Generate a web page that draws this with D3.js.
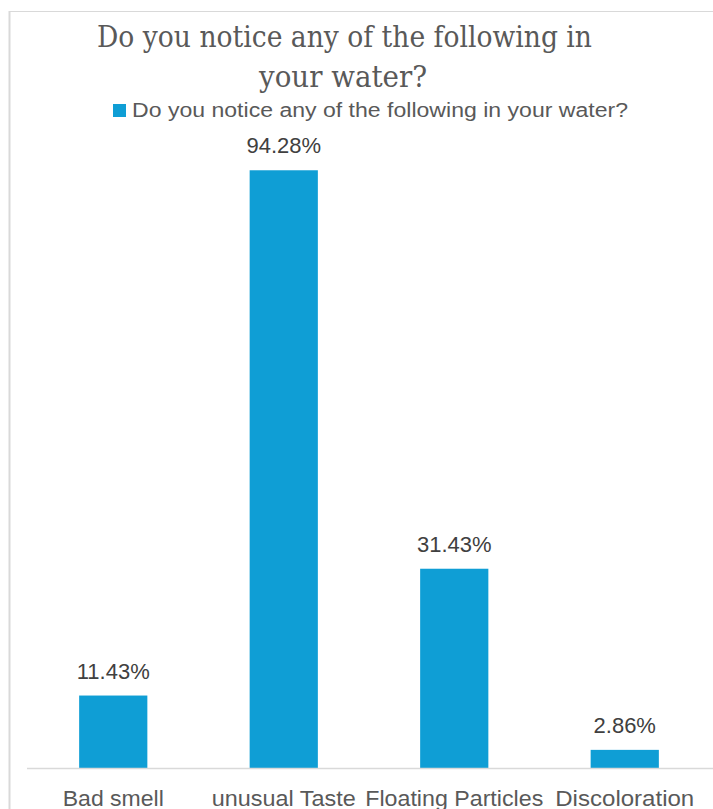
<!DOCTYPE html>
<html>
<head>
<meta charset="utf-8">
<script src="https://cdn.jsdelivr.net/npm/d3@7"></script>
<style>
  html, body { margin: 0; padding: 0; background: #ffffff; }
  svg { display: block; }
</style>
</head>
<body>
<svg id="chart" width="713" height="809"></svg>
<script>
// Survey answers and their shares (%)
const categories = ["Bad smell", "unusual Taste", "Floating Particles", "Discoloration"];
const values = [11.43, 94.28, 31.43, 2.86];
const valueLabels = ["11.43%", "94.28%", "31.43%", "2.86%"];
const titleLines = ["Do you notice any of the following in", "your water?"];
const seriesName = "Do you notice any of the following in your water?";

const W = 713, H = 809;
const svg = d3.select("#chart");
const barColor = "#0f9ed5";

// Chart frame (top and left edges)
svg.append("line").attr("x1", 9.5).attr("x2", W).attr("y1", 11.5).attr("y2", 11.5)
  .attr("stroke", "#d9d9d9").attr("stroke-width", 1.2);
svg.append("line").attr("x1", 9.5).attr("x2", 9.5).attr("y1", 11).attr("y2", H)
  .attr("stroke", "#d9d9d9").attr("stroke-width", 2);

// Title
const title = svg.append("g");
title.append("text").attr("x", 344.5).attr("y", 47)
  .attr("text-anchor", "middle")
  .attr("font-family", "'DejaVu Serif', 'Liberation Serif', serif")
  .attr("font-size", 30).attr("fill", "#595959")
  .attr("textLength", 495).attr("lengthAdjust", "spacingAndGlyphs")
  .text(titleLines[0]);
title.append("text").attr("x", 343).attr("y", 87)
  .attr("text-anchor", "middle")
  .attr("font-family", "'DejaVu Serif', 'Liberation Serif', serif")
  .attr("font-size", 30).attr("fill", "#595959")
  .attr("textLength", 168).attr("lengthAdjust", "spacingAndGlyphs")
  .text(titleLines[1]);

// Legend
svg.append("rect").attr("x", 113).attr("y", 104).attr("width", 13).attr("height", 13)
  .attr("fill", barColor);
svg.append("text").attr("x", 132).attr("y", 117)
  .attr("font-family", "'Liberation Sans', Arial, sans-serif")
  .attr("font-size", 20).attr("fill", "#595959")
  .attr("textLength", 496).attr("lengthAdjust", "spacingAndGlyphs")
  .text(seriesName);

// Scales
const x = d3.scaleBand().domain(categories).range([28, 710])
  .paddingInner(0.6).paddingOuter(0.3);
const y = d3.scaleLinear().domain([0, 100]).range([768, 134]);

// Bars
svg.append("g").selectAll("rect").data(categories).join("rect")
  .attr("x", d => x(d))
  .attr("width", x.bandwidth())
  .attr("y", (d, i) => y(values[i]))
  .attr("height", (d, i) => y(0) - y(values[i]))
  .attr("fill", barColor);

// Category axis
const xAxis = svg.append("g").attr("transform", `translate(0,${y(0)})`)
  .call(d3.axisBottom(x).tickSize(0).tickPadding(38));
xAxis.select(".domain").remove();
svg.append("line").attr("x1", 27).attr("x2", W).attr("y1", y(0) + 0.5).attr("y2", y(0) + 0.5)
  .attr("stroke", "#d9d9d9").attr("stroke-width", 1.5);
const labelWidths = [101, 144, 178, 139];
xAxis.selectAll(".tick text")
  .attr("font-family", "'Liberation Sans', Arial, sans-serif")
  .attr("font-size", 22).attr("fill", "#595959")
  .attr("dy", 0).attr("y", 38)
  .attr("textLength", (d, i) => labelWidths[i]).attr("lengthAdjust", "spacingAndGlyphs");

// Value labels
svg.append("g").selectAll("text").data(categories).join("text")
  .attr("x", d => x(d) + x.bandwidth() / 2)
  .attr("y", (d, i) => y(values[i]) - 17)
  .attr("text-anchor", "middle")
  .attr("font-family", "'Liberation Sans', Arial, sans-serif")
  .attr("font-size", 22).attr("fill", "#404040")
  .text((d, i) => valueLabels[i]);
</script>
</body>
</html>
